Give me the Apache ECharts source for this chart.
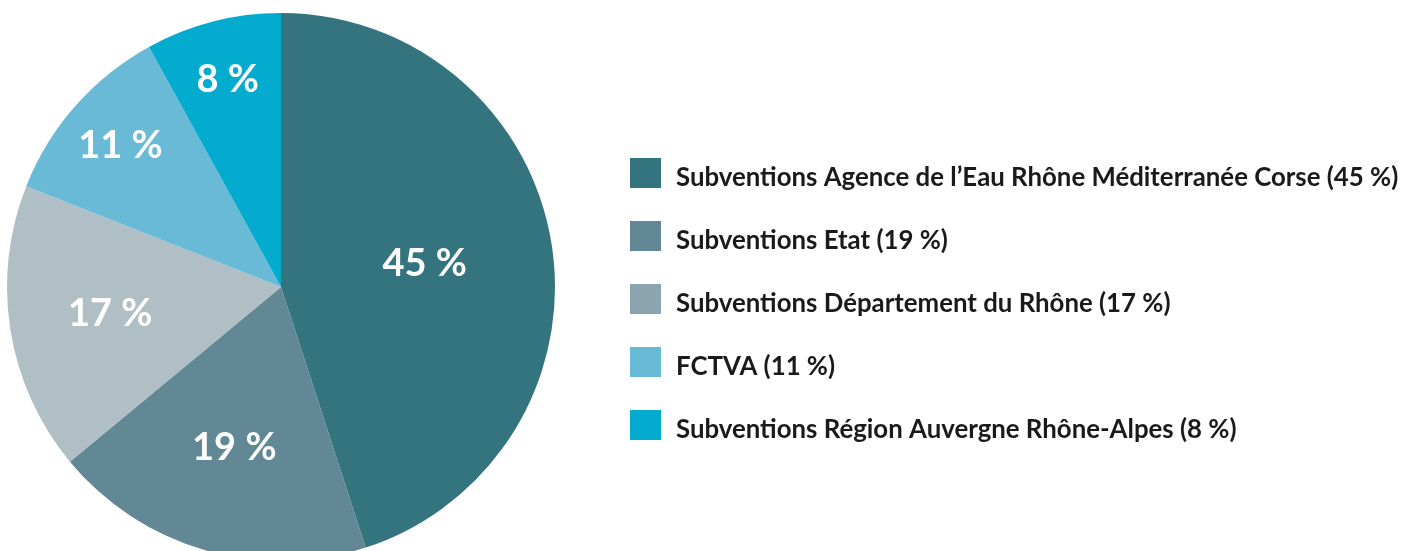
<!DOCTYPE html>
<html>
<head>
<meta charset="utf-8">
<script src="https://cdn.jsdelivr.net/npm/echarts@6/dist/echarts.min.js"></script>
<style>
  html, body { margin: 0; padding: 0; background: #fff; }
  #chart { width: 1403px; height: 551px; }
</style>
</head>
<body>
<div id="chart"></div>
<script>
// data
var names = [
  'Subventions Agence de l\u2019Eau Rh\u00f4ne M\u00e9diterran\u00e9e Corse',
  'Subventions Etat',
  'Subventions D\u00e9partement du Rh\u00f4ne',
  'FCTVA',
  'Subventions R\u00e9gion Auvergne Rh\u00f4ne-Alpes'
];
var values = [45, 19, 17, 11, 8];

// styles
var sliceColors = ['#33747f', '#618894', '#b0bfc6', '#68bad7', '#03abcf'];
var legendColors = ['#33747f', '#618894', '#8ca4b0', '#68bad7', '#03abcf'];
var labelDist = [0.52, 0.6, 0.62, 0.77, 0.77]; // fraction of radius
var R = 274;

var chart = echarts.init(document.getElementById('chart'));

var total = values.reduce(function (a, b) { return a + b; }, 0);
var acc = 0;
var pieData = values.map(function (v, i) {
  var mid = (acc + v / 2) / total * Math.PI * 2;
  acc += v;
  var extra = (labelDist[i] - 0.5) * R;
  return {
    name: names[i],
    value: v,
    itemStyle: { color: sliceColors[i] },
    label: { offset: [Math.sin(mid) * extra, -Math.cos(mid) * extra] }
  };
});

chart.setOption({
  animation: false,
  legend: {
    orient: 'vertical',
    left: 630,
    top: 158,
    padding: 0,
    itemWidth: 31,
    itemHeight: 30,
    itemGap: 30,
    icon: 'rect',
    selectedMode: false,
    data: names.map(function (n, i) {
      return { name: n, itemStyle: { color: legendColors[i] } };
    }),
    formatter: function (n) {
      return '{t|' + n + ' (' + values[names.indexOf(n)] + ' %)}';
    },
    textStyle: {
      rich: {
        t: {
          fontFamily: 'Lato',
          fontWeight: 'bold',
          fontSize: 25.8,
          color: '#1a1a1a',
          padding: [10, 0, 0, 10]
        }
      }
    }
  },
  series: [{
    type: 'pie',
    center: [281, 287],
    radius: [0, R],
    startAngle: 90,
    clockwise: true,
    silent: true,
    itemStyle: { borderWidth: 0 },
    label: {
      show: true,
      position: 'inside',
      formatter: '{c} %',
      color: '#fff',
      fontFamily: 'Lato',
      fontWeight: 'bold',
      fontSize: 38
    },
    labelLine: { show: false },
    data: pieData
  }]
});
</script>
</body>
</html>
